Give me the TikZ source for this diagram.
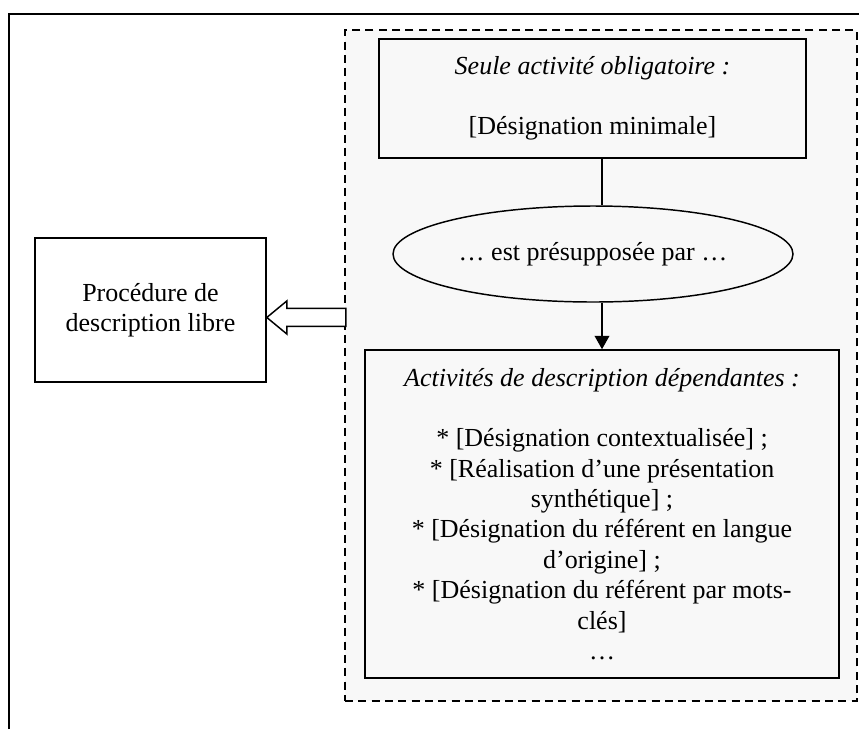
\documentclass[tikz,border=0pt]{standalone}
\usepackage{fontspec}
\setmainfont{Liberation Serif}
\usetikzlibrary{arrows.meta,positioning,shapes.geometric}
\definecolor{ZoneBack}{HTML}{F8F8F8}
\tikzset{>={Triangle[length=10pt,width=11pt]},every node/.style={font=\fontsize{19.5}{22.8}\selectfont},
 block/.style={draw,line width=1.2pt,fill=ZoneBack,inner sep=0pt,align=center},
 oval/.style={ellipse,draw,line width=1.1pt,fill=ZoneBack,inner sep=0pt,align=center},
 zone/.style={draw,dashed,dash pattern=on 6pt off 4pt,line width=1.1pt,fill=ZoneBack,inner sep=0pt},
 hollow/.style={draw,line width=1.1pt,fill=white,line join=miter}}
\begin{document}
\begin{tikzpicture}[x=0.75pt,y=-0.75pt]
\useasboundingbox (0,0) rectangle (859,729);
\draw[line width=1.3pt] (9,729)--(9,14)--(859,14);
\node[zone,minimum width=384pt,minimum height=503.25pt] (zone) at (601,365.5) {};
\node[block,minimum width=320.25pt,minimum height=89.25pt] (mini) at (592.5,98.5)
 {\textit{Seule activité obligatoire :}\\[22.5pt][Désignation minimale]};
\node[oval,minimum width=300pt,minimum height=72pt] (presup) at (593,254) {… est présupposée par …};
\node[block,minimum width=355.5pt,minimum height=246pt] (depend) at (602,514)
 {\textit{Activités de description dépendantes :}\\[22.5pt]{}* [Désignation contextualisée] ;\\{}* [Réalisation d’une présentation\\synthétique] ;\\{}* [Désignation du référent en langue\\d’origine] ;\\{}* [Désignation du référent par mots-\\clés]\\…};
\node[block,fill=white,minimum width=173.25pt,minimum height=108pt] (libre) at (150.5,310)
 {Procédure de\\description libre};
\draw[line width=1.1pt] (depend.north |- mini.south)--(depend.north |- presup.north);
\draw[line width=1.1pt,->] (depend.north |- presup.south)--(depend.north);
\draw[hollow] ([yshift=-5.6pt]libre.east)--++(20,-16.5)--++(0,7.5)--++(59,0)--++(0,18)--++(-59,0)--++(0,7.5)--cycle;
\end{tikzpicture}
\end{document}
